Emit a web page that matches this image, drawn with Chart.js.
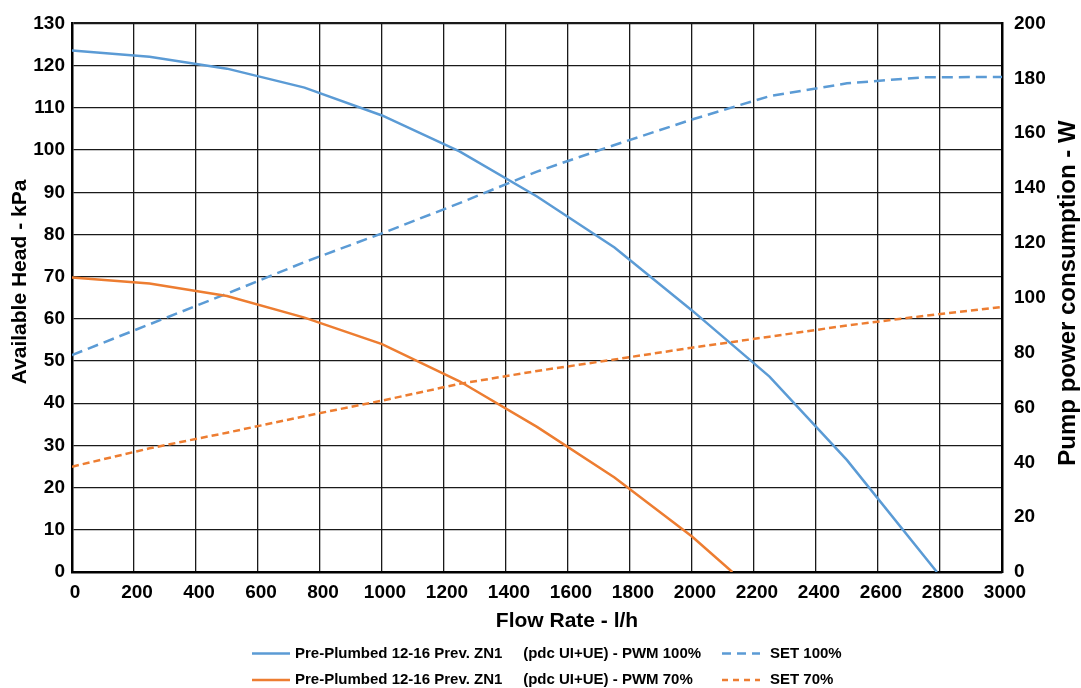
<!DOCTYPE html>
<html>
<head>
<meta charset="utf-8">
<script src="https://cdn.jsdelivr.net/npm/chart.js@4.4.1/dist/chart.umd.min.js"></script>
<style>
    html, body { margin: 0; padding: 0; background: #fff; }
    #wrap { width: 1081px; height: 688px; }
</style>
</head>
<body>
<div id="wrap"><canvas id="pumpChart" width="1081" height="688"></canvas></div>
<script>
// curve data (flow in l/h)
const flowPwm100 = [0, 250, 500, 750, 1000, 1250, 1500, 1750, 2000, 2250, 2500, 2790];
const headPwm100 = [123.6, 122.1, 119.3, 114.8, 108.2, 99.7, 89.0, 76.9, 62.0, 46.3, 26.5, 0];

const flowPwm70 = [0, 250, 500, 750, 1000, 1250, 1500, 1750, 2000, 2130];
const headPwm70 = [69.8, 68.4, 65.4, 60.3, 54.0, 45.2, 34.4, 22.4, 8.4, 0];

const flowSet = [0, 250, 500, 750, 1000, 1250, 1500, 1750, 2000, 2250, 2500, 2750, 3000];
const powerSet100 = [79.1, 90.3, 101.5, 113.0, 123.5, 134.5, 146.0, 155.7, 165.0, 173.5, 178.2, 180.4, 180.5];
const powerSet70 = [38.4, 45.1, 50.8, 56.8, 62.5, 68.6, 73.3, 77.5, 81.8, 85.8, 89.9, 93.4, 96.6];

const seriesLabels = [
    'Pre-Plumbed 12-16 Prev. ZN1     (pdc UI+UE) - PWM 100%',
    'Pre-Plumbed 12-16 Prev. ZN1     (pdc UI+UE) - PWM 70%',
    'SET 100%',
    'SET 70%'
];

const BLUE = '#5B9BD5';
const ORANGE = '#ED7D31';

const toPoints = (xs, ys) => xs.map((x, i) => ({ x: x, y: ys[i] }));

Chart.defaults.font.family = '"Liberation Sans", Arial, sans-serif';
Chart.defaults.color = '#000';

// axis titles + two-row legend, drawn by hand to match the sheet layout
const decorPlugin = {
    id: 'decor',
    afterDraw(chart) {
        const c = chart.ctx;
        const area = chart.chartArea;
        c.save();
        c.fillStyle = '#000';
        c.textAlign = 'center';
        c.textBaseline = 'middle';

        c.font = 'bold 21px "Liberation Sans", Arial, sans-serif';
        c.fillText('Flow Rate - l/h', 567, area.bottom + 49);

        c.save();
        c.translate(20, 282);
        c.rotate(-Math.PI / 2);
        c.fillText('Available Head - kPa', 0, 0);
        c.restore();

        c.save();
        c.font = 'bold 24px "Liberation Sans", Arial, sans-serif';
        c.translate(1068, 293);
        c.rotate(-Math.PI / 2);
        c.fillText('Pump power consumption - W', 0, 0);
        c.restore();

        // legend
        const rows = [653.5, 680];
        const cols = [{ line: 252, text: 295 }, { line: 722, text: 770 }];
        const legendDash = [[], [], [9, 6], [6, 5]];
        c.font = 'bold 15px "Liberation Sans", Arial, sans-serif';
        c.textAlign = 'left';
        chart.data.datasets.forEach((ds, i) => {
            const col = cols[i < 2 ? 0 : 1];
            const y = rows[i % 2];
            c.beginPath();
            c.strokeStyle = ds.borderColor;
            c.lineWidth = 2.5;
            c.setLineDash(legendDash[i]);
            c.moveTo(col.line, y);
            c.lineTo(col.line + 38, y);
            c.stroke();
            c.setLineDash([]);
            c.fillText(ds.label, col.text, y);
        });
        c.restore();
    }
};

const ctx = document.getElementById('pumpChart').getContext('2d');

const pumpChart = new Chart(ctx, {
    type: 'line',
    data: {
        datasets: [{
            label: seriesLabels[0],
            data: toPoints(flowPwm100, headPwm100),
            borderColor: BLUE,
            borderWidth: 2.5,
            yAxisID: 'y'
        }, {
            label: seriesLabels[1],
            data: toPoints(flowPwm70, headPwm70),
            borderColor: ORANGE,
            borderWidth: 2.5,
            yAxisID: 'y'
        }, {
            label: seriesLabels[2],
            data: toPoints(flowSet, powerSet100),
            borderColor: BLUE,
            borderWidth: 2.5,
            borderDash: [11, 6],
            yAxisID: 'y1'
        }, {
            label: seriesLabels[3],
            data: toPoints(flowSet, powerSet70),
            borderColor: ORANGE,
            borderWidth: 2.5,
            borderDash: [7, 4],
            yAxisID: 'y1'
        }]
    },
    options: {
        responsive: false,
        animation: false,
        layout: { padding: { top: 23.5, left: 0, right: 0, bottom: 0 } },
        elements: {
            point: { radius: 0 },
            line: { tension: 0, fill: false }
        },
        plugins: {
            legend: { display: false },
            tooltip: { enabled: false }
        },
        scales: {
            x: {
                type: 'linear',
                min: 0,
                max: 3000,
                afterFit: (scale) => { scale.height = 116; },
                ticks: {
                    stepSize: 200,
                    autoSkip: false,
                    maxRotation: 0,
                    padding: 9,
                    labelOffset: 3,
                    callback: (v) => String(v),
                    font: { size: 19, weight: 'bold' }
                },
                grid: { color: '#1a1a1a', lineWidth: 1.3, drawTicks: false },
                border: { color: '#000', width: 2.5 }
            },
            y: {
                position: 'left',
                min: 0,
                max: 130,
                afterFit: (scale) => { scale.width = 72; },
                ticks: {
                    stepSize: 10,
                    padding: 7,
                    font: { size: 19, weight: 'bold' }
                },
                grid: {
                    color: '#1a1a1a',
                    lineWidth: (c) => (c.tick && c.tick.value === 130 ? 2.2 : 1.3),
                    drawTicks: false
                },
                border: { color: '#000', width: 2.5 }
            },
            y1: {
                position: 'right',
                min: 0,
                max: 200,
                afterFit: (scale) => { scale.width = 79; },
                ticks: {
                    stepSize: 20,
                    padding: 12,
                    font: { size: 19, weight: 'bold' }
                },
                grid: { display: false, drawTicks: false },
                border: { color: '#000', width: 2.5 }
            }
        }
    },
    plugins: [decorPlugin]
});
</script>
</body>
</html>
